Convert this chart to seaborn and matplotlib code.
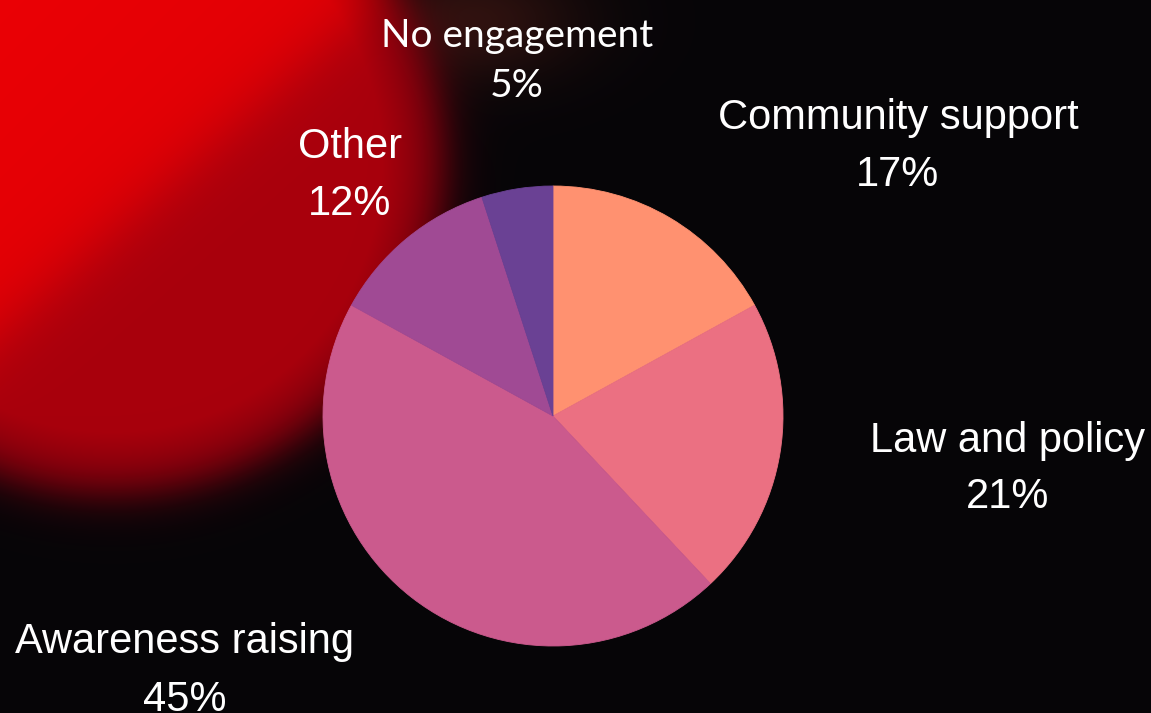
import numpy as np
import matplotlib
matplotlib.use("Agg")
import matplotlib.pyplot as plt
import seaborn as sns

# chart data
categories = ["Community support", "Law and policy", "Awareness raising",
              "Other", "No engagement"]
shares = [17, 21, 45, 12, 5]
slice_colors = ["#FF9170", "#EB7082", "#CB5A8D", "#A04A94", "#6A4194"]

W, H = 1151, 713

sns.set_theme(style="white")
plt.rcParams["font.family"] = ["Liberation Sans", "DejaVu Sans"]


def make_background():
    yy, xx = np.mgrid[0:H, 0:W].astype(float)
    img = np.zeros((H, W, 3))
    img[..., 0] = 0.025
    img[..., 1] = 0.02
    img[..., 2] = 0.03

    # faint brown haze near the top
    haze = np.exp(-(((xx - 470) / 110) ** 2 + ((yy - 20) / 60) ** 2))
    img[..., 0] += 0.16 * haze
    img[..., 1] += 0.05 * haze
    img[..., 2] += 0.03 * haze

    # red disc from the photo
    d = np.hypot(xx - 112, yy - 162)
    disc = 1 / (1 + np.exp((d - 334) / 13))
    band = 1 / (1 + np.exp((xx / 378 + yy / 334 - 1) * 14))
    red = 0.66 + 0.22 * band + 0.04 * np.clip(1 - (xx + yy) / 400, 0, 1)
    red = red - 0.2 * np.clip((d - 270) / 80, 0, 1)
    img[..., 0] = img[..., 0] * (1 - disc) + red * disc
    img[..., 1] = img[..., 1] * (1 - disc)
    img[..., 2] = img[..., 2] * (1 - disc) + (0.05 - 0.03 * band) * disc
    return np.clip(img, 0, 1)


fig = plt.figure(figsize=(W / 100, H / 100), dpi=100)
ax = fig.add_axes([0, 0, 1, 1])
ax.imshow(make_background(), extent=[0, W, 0, H], origin="upper", zorder=0)

wedges, _ = ax.pie(shares, colors=slice_colors, startangle=90,
                   counterclock=False, center=(553, H - 416), radius=230,
                   frame=True)
for w in wedges:
    w.set_edgecolor(w.get_facecolor())
    w.set_linewidth(0.6)

# label positions (image pixels: x centre, baseline of each line)
label_pos = {
    "Community support": (898, 129, 186),
    "Law and policy": (1008, 452, 508),
    "Awareness raising": (185, 653, 711),
    "Other": (350, 158, 215),
    "No engagement": (517, 47, 97),
}

for name, val in zip(categories, shares):
    x, y1, y2 = label_pos[name]
    if name == "No engagement":
        kw = dict(family=["Lato", "DejaVu Sans"], fontsize=28)
    else:
        kw = dict(fontsize=30)
    ax.text(x, H - y1, name, color="white", ha="center", va="baseline", **kw)
    ax.text(x, H - y2, f"{val}%", color="white", ha="center", va="baseline", **kw)

ax.set_xlim(0, W)
ax.set_ylim(0, H)
ax.set_aspect("equal")
ax.axis("off")

fig.savefig("out.png", dpi=100)
